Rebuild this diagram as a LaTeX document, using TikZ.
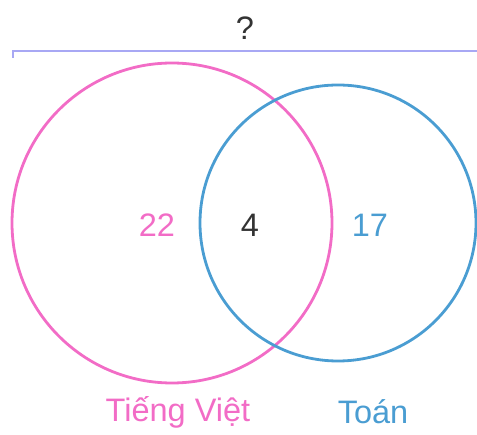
\documentclass[tikz,border=0pt]{standalone}
\usepackage{fontspec}
\setmainfont{Liberation Sans}
\definecolor{vpink}{HTML}{F26CC6}
\definecolor{vblue}{HTML}{4A9DD2}
\definecolor{vbrack}{HTML}{A8A8F4}
\definecolor{vgray}{HTML}{333333}
\begin{document}
\begin{tikzpicture}[x=1pt,y=-1pt,
  lbl/.style={font=\fontsize{32.5}{36}\selectfont, inner sep=0pt, anchor=center},
  ring/.style={line width=2.8pt}]
\useasboundingbox (0,0) rectangle (477,435);
\draw[ring, vpink] (172,223) circle (160);
\draw[ring, vblue] (338,223) circle (138);
\coordinate (b0) at (13,58);
\coordinate (b1) at (13,51);
\coordinate (b2) at (477,51);
\draw[vbrack, line width=2.2pt] (b0) -- (b1) -- (b2);
\node[lbl, text=vgray] (q) at (245,28) {?};
\node[lbl, text=vpink] (n22) at (157,225) {22};
\node[lbl, text=vgray] (n4) at (250,225) {4};
\node[lbl, text=vblue] (n17) at (370,225) {17};
\node[lbl, text=vpink] (tv) at (178,412) {Tiếng Việt};
\node[lbl, text=vblue] (to) at (373,412) {Toán};
\end{tikzpicture}
\end{document}
